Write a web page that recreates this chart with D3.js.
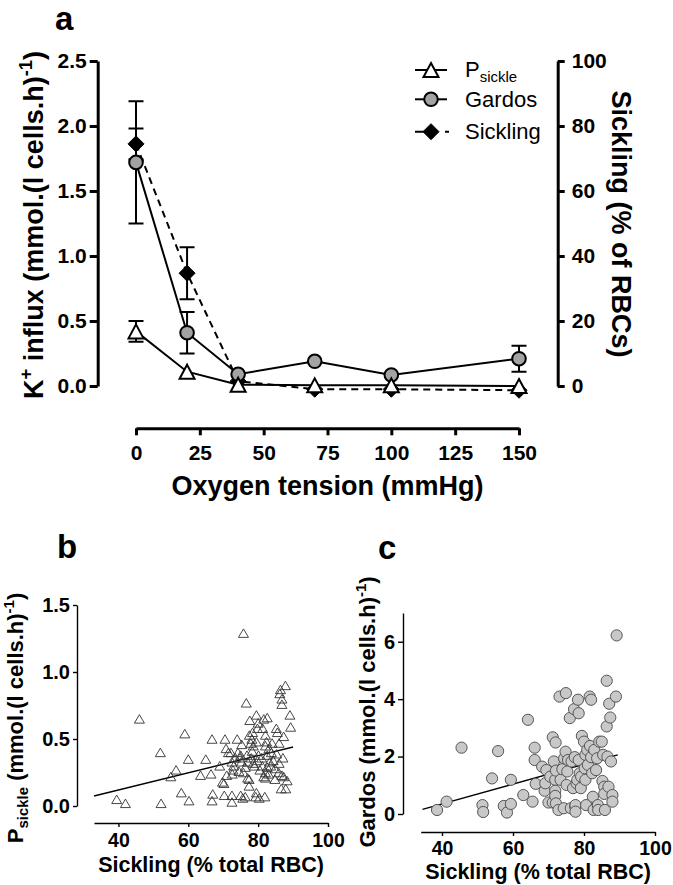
<!DOCTYPE html>
<html><head><meta charset="utf-8">
<script src="https://cdn.jsdelivr.net/npm/d3@7"></script>
<style>
html,body{margin:0;padding:0;background:#fff;}
svg{display:block;}
</style></head><body>
<svg id="chart" width="673" height="885"></svg>
<script>
// ---------- Panel a data ----------
const oxygen = [0, 20, 40, 70, 100, 150];
const psickle = [0.42, 0.11, 0.01, 0.005, 0.005, 0.0];
const psickleErr = [0.08, 0, 0, 0, 0, 0];
const gardos = [1.72, 0.41, 0.09, 0.19, 0.085, 0.21];
const gardosErr = [0.47, 0.16, 0, 0, 0, 0.10];
const sicklingPct = [74.5, 34.7, 1.5, -1.0, -1.0, -1.3];
const sicklingErr = [4.7, 8.0, 0, 0, 0, 0];
const xTicksA = [0, 25, 50, 75, 100, 125, 150];
const yTicksLeft = [0, 0.5, 1.0, 1.5, 2.0, 2.5];
const yTicksRight = [0, 20, 40, 60, 80, 100];
const legendLabels = ["sickle", "Gardos", "Sickling"];

// ---------- Panel b data (Sickling %, Psickle) ----------
const bSickling = [39.5,42,46,52,52.2,55,56.5,58,59,60,60.2,63.5,65,66.5,66.8,67,66.8,
 69,69.8,70.2,70.3,70.5,70.8,71.5,72.2,72.5,72.8,72.6,72.5,72.5,73,
 74,74.2,74.8,74.5,75.3,75,75.2,75,75.6,75.8,75.8,76.6,76.8,77,76.3,77.4,77.4,76.3,77,
 77.6,78.4,78.2,77.9,78.6,78,78.6,78.9,
 79.5,80,79.8,79.5,80.1,79.8,80.5,79.5,79.3,80.3,
 81.6,81.3,81.2,82.1,81.6,81.9,82.1,
 82.6,82.1,82.4,83.1,82.6,83.3,82.6,82.1,
 83.8,84.3,83.6,84.8,84.8,85.2,
 85.5,86,85.3,85.9,86.2,86.4,86.8,86.8,
 87.3,87.1,86.8,87.3,86.6,87.8,87.9,88.3,89.1,89.3,
 78.3,81,84,73.5,77.5,86,71,83];
const bPsickle = [0.05,0.02,0.65,0.40,0.02,0.22,0.27,0.10,0.54,0.35,0.04,0.23,0.35,0.24,0.50,0.09,0.04,
 0.30,0.18,0.17,0.08,0.50,0.43,0.40,0.40,0.33,0.27,0.24,0.08,0.03,0.30,
 0.50,0.40,0.36,0.26,0.46,0.38,0.33,0.08,0.06,1.29,0.25,0.77,0.38,0.33,0.29,0.20,0.15,0.07,0.21,
 0.64,0.55,0.50,0.47,0.45,0.36,0.32,0.30,
 0.68,0.62,0.58,0.48,0.38,0.34,0.27,0.10,0.07,0.06,
 0.65,0.58,0.30,0.25,0.22,0.07,0.45,
 0.66,0.53,0.48,0.43,0.38,0.33,0.29,0.21,
 0.40,0.34,0.30,0.28,0.20,0.58,
 0.55,0.47,0.39,0.25,0.84,0.87,0.80,0.76,
 0.52,0.36,0.23,0.22,0.13,0.90,0.13,0.19,0.68,0.59,
 0.41,0.36,0.47,0.36,0.53,0.32,0.23,0.24];
const bFitX = [33, 90];
const bFitY = [0.075, 0.44];
const bXTicks = [40, 60, 80, 100];
const bYTicks = [0, 0.5, 1.0, 1.5];

// ---------- Panel c data (Sickling %, Gardos) ----------
const cSickling = [38.6,41.3,45.5,51.4,51.6,54.1,55.8,57.4,58.3,59.4,59.4,62.9,64.2,65.5,66.1,66.1,66.4,
 68.2,68.9,69.1,69.4,70,70.5,71.2,71.2,71.5,71.9,71.9,72,72.1,71.9,72.1,72.8,73.1,73.4,73.9,
 74.3,74.4,74.8,74.9,75.1,75.3,75.5,76,76.3,76.5,76.9,77.2,77.4,77.5,77.6,77.6,77.9,78.1,
 78.3,78.5,78.5,78.8,79.1,79.2,79.4,80,80.2,80.4,80.4,80.6,80.9,81.1,81.6,82,81.7,82,82.3,
 82.5,82.7,82.9,83.4,83.7,83.9,84,84.3,85,85.2,85.4,85.7,85.7,85.9,86.4,86.4,86.6,86.9,
 87.1,87.4,87.6,88,88,89,89.2];
const cGardos = [0.14,0.43,2.31,0.31,0.07,1.24,2.19,0.28,0.05,1.19,0.35,0.66,3.28,0.43,2.31,1.88,1.05,
 1.65,0.81,1.07,1.53,0.40,1.30,2.67,0.40,1.83,1.19,0.81,2.49,1.51,0.63,0.37,0.14,4.09,1.19,1.56,
 0.20,1.94,2.17,4.21,1.01,1.48,1.88,3.34,0.20,1.83,0.90,3.65,1.98,0.26,0.31,0.08,1.07,1.19,
 3.98,3.51,1.88,1.42,0.90,1.30,2.72,2.52,1.59,2.06,1.19,0.31,2.23,1.71,4.09,3.98,2.37,1.98,1.42,
 0.60,0.14,2.23,1.53,1.94,0.31,0.14,2.52,2.52,1.15,2.06,0.95,0.70,0.14,4.64,3.05,2.00,0.95,
 3.84,3.36,1.83,0.66,0.43,4.09,6.22];
const cFitX = [34.5, 89.5];
const cFitY = [0.16, 2.06];
const cXTicks = [40, 60, 80, 100];
const cYTicks = [0, 2, 4, 6];

// ---------- drawing ----------
const FONT = '"Liberation Sans", Arial, Helvetica, sans-serif';
const svg = d3.select("#chart");

function styleAxis(g, w, fs) {
  g.attr("font-family", null).attr("font-size", null);
  g.select(".domain").attr("stroke", "#000").attr("stroke-width", w);
  g.selectAll(".tick line").attr("stroke", "#000").attr("stroke-width", w);
  g.selectAll(".tick text").attr("fill", "#000")
    .style("font-family", FONT).style("font-size", fs + "px").style("font-weight", "bold");
}
const triType = (w, h) => ({ draw(ctx) { ctx.moveTo(0, -h / 2); ctx.lineTo(w / 2, h / 2); ctx.lineTo(-w / 2, h / 2); ctx.closePath(); } });
const diaType = (w, h) => ({ draw(ctx) { ctx.moveTo(0, -h / 2); ctx.lineTo(w / 2, 0); ctx.lineTo(0, h / 2); ctx.lineTo(-w / 2, 0); ctx.closePath(); } });
const circType = (r) => ({ draw(ctx) { ctx.moveTo(r, 0); ctx.arc(0, 0, r, 0, 2 * Math.PI); ctx.closePath(); } });

// rich text helper: parts = [{t, mode:'sup'|'sub'|undefined}]
function rich(g, parts, x, y, fs, weight, anchor, rot) {
  const t = g.append("text")
    .attr("transform", `translate(${x},${y})` + (rot ? ` rotate(${rot})` : ""))
    .attr("text-anchor", anchor || "start")
    .style("font-family", FONT).style("font-size", fs + "px").style("font-weight", weight)
    .attr("fill", "#000");
  let shift = 0;
  parts.forEach(p => {
    const ts = t.append("tspan").text(p.t);
    let target = 0, size = fs;
    if (p.mode === "sup") { target = -fs * 0.42; size = fs * 0.68; }
    if (p.mode === "sub") { target = fs * 0.22; size = fs * 0.68; }
    ts.style("font-size", size + "px").attr("dy", target - shift);
    shift = target;
  });
  return t;
}

// ===== Panel a =====
const xA = d3.scaleLinear().domain([0, 150]).range([136, 519]);
const yL = d3.scaleLinear().domain([0, 2.5]).range([386, 61]);
const yR = d3.scaleLinear().domain([0, 100]).range([386, 61]);
const gA = svg.append("g");

gA.append("g").attr("transform", "translate(97.7,0)")
  .call(d3.axisLeft(yL).tickValues(yTicksLeft).tickFormat(d3.format(".1f")).tickSize(8).tickSizeOuter(0).tickPadding(3))
  .call(styleAxis, 3, 21);
gA.append("g").attr("transform", "translate(557.7,0)")
  .call(d3.axisRight(yR).tickValues(yTicksRight).tickSize(7).tickSizeOuter(0).tickPadding(7))
  .call(styleAxis, 3, 21);
gA.append("g").attr("transform", "translate(0,428.3)")
  .call(d3.axisBottom(xA).tickValues(xTicksA).tickSize(7).tickSizeOuter(0).tickPadding(10))
  .call(styleAxis, 3, 21);

rich(gA, [{t: "a"}], 55, 30, 33, "bold", "start");
rich(gA, [{t: "Oxygen tension (mmHg)"}], 327.5, 495, 27, "bold", "middle");
rich(gA, [{t: "K"}, {t: "+", mode: "sup"}, {t: " influx (mmol.(l cells.h)"}, {t: "-1", mode: "sup"}, {t: ")"}], 43, 225, 27, "bold", "middle", -90);
rich(gA, [{t: "Sickling (% of RBCs)"}], 612, 224, 27, "bold", "middle", 90);

function series(g, yS, vals, errs, opts) {
  const line = d3.line().x((d, i) => xA(oxygen[i])).y(d => yS(d));
  g.append("path").attr("d", line(vals)).attr("fill", "none").attr("stroke", "#000")
    .attr("stroke-width", 2).attr("stroke-dasharray", opts.dash || null);
  vals.forEach((v, i) => {
    if (!errs[i]) return;
    const x = xA(oxygen[i]), y1 = yS(v + errs[i]), y0 = yS(v - errs[i]);
    g.append("path").attr("d", `M${x},${y0}V${y1}M${x - 7.5},${y1}H${x + 7.5}M${x - 7.5},${y0}H${x + 7.5}`)
      .attr("stroke", "#000").attr("stroke-width", 2).attr("fill", "none");
  });
  g.selectAll(null).data(vals).enter().append("path")
    .attr("transform", (d, i) => `translate(${xA(oxygen[i])},${yS(d)})`)
    .attr("d", d3.symbol().type(opts.type)())
    .attr("fill", opts.fill).attr("stroke", "#000").attr("stroke-width", opts.sw);
}
series(gA, yR, sicklingPct, sicklingErr, {type: diaType(16, 16), fill: "#000", sw: 1, dash: "7,5"});
series(gA, yL, gardos, gardosErr, {type: circType(6.8), fill: "#a3a3a3", sw: 2});
series(gA, yL, psickle, psickleErr, {type: triType(15, 14), fill: "#fff", sw: 2});

// legend
const legY = [70, 99.3, 131.7];
const legTypes = [triType(15, 14), circType(6.8), diaType(16, 16)];
const legFill = ["#fff", "#a3a3a3", "#000"];
legTypes.forEach((tp, i) => {
  const y = legY[i];
  const ln = gA.append("line").attr("x1", 415).attr("x2", i < 2 ? 447 : 450).attr("y1", y).attr("y2", y)
    .attr("stroke", "#000").attr("stroke-width", 2);
  if (i === 2) ln.attr("stroke-dasharray", "10,20,4");
  gA.append("path").attr("transform", `translate(431,${y})`).attr("d", d3.symbol().type(tp)())
    .attr("fill", legFill[i]).attr("stroke", "#000").attr("stroke-width", i === 2 ? 1 : 2);
});
rich(gA, [{t: "P"}, {t: legendLabels[0], mode: "sub"}], 465, 77, 22, "normal", "start");
rich(gA, [{t: legendLabels[1]}], 465, 107, 22, "normal", "start");
rich(gA, [{t: legendLabels[2]}], 465, 139, 22, "normal", "start");

// ===== Panel b =====
const xB = d3.scaleLinear().domain([33, 100]).range([94, 328]);
const yB = d3.scaleLinear().domain([0, 1.5]).range([806, 605]);
const gB = svg.append("g");
gB.append("g").attr("transform", "translate(0,823)")
  .call(d3.axisBottom(xB).tickValues(bXTicks).tickSize(4).tickSizeOuter(0).tickPadding(6))
  .call(styleAxis, 1.4, 19.5);
gB.append("g").attr("transform", "translate(77,0)")
  .call(d3.axisLeft(yB).tickValues(bYTicks).tickFormat(d3.format(".1f")).tickSize(4).tickSizeOuter(0).tickPadding(3))
  .call(styleAxis, 1.4, 20);
rich(gB, [{t: "b"}], 57, 558, 33, "bold", "start");
rich(gB, [{t: "Sickling (% total RBC)"}], 211, 872, 21.5, "bold", "middle");
rich(gB, [{t: "P"}, {t: "sickle", mode: "sub"}, {t: " (mmol.(l cells.h)"}, {t: "-1", mode: "sup"}, {t: ")"}], 23, 718, 22, "bold", "middle", -90);
gB.append("path").attr("d", d3.line().x(d => xB(d[0])).y(d => yB(d[1]))(bFitX.map((x, i) => [x, bFitY[i]])))
  .attr("stroke", "#000").attr("stroke-width", 1.4).attr("fill", "none");
gB.selectAll(null).data(bSickling).enter().append("path")
  .attr("transform", (d, i) => `translate(${xB(d)},${yB(bPsickle[i])})`)
  .attr("d", d3.symbol().type(triType(10, 8.5))())
  .attr("fill", "none").attr("stroke", "#333").attr("stroke-width", 0.9);

// ===== Panel c =====
const xC = d3.scaleLinear().domain([34, 100]).range([420.7, 655]);
const yC = d3.scaleLinear().domain([0, 7]).range([814, 613]);
const gC = svg.append("g");
gC.append("g").attr("transform", "translate(0,832)")
  .call(d3.axisBottom(xC).tickValues(cXTicks).tickSize(4).tickSizeOuter(0).tickPadding(5))
  .call(styleAxis, 1.4, 19.5);
gC.append("g").attr("transform", "translate(403,0)")
  .call(d3.axisLeft(yC).tickValues(cYTicks).tickFormat(d3.format("d")).tickSize(5).tickSizeOuter(0).tickPadding(3))
  .call(styleAxis, 1.4, 20);
rich(gC, [{t: "c"}], 378, 559, 33, "bold", "start");
rich(gC, [{t: "Sickling (% total RBC)"}], 538, 879, 21.5, "bold", "middle");
rich(gC, [{t: "Gardos (mmol.(l cells.h)"}, {t: "-1", mode: "sup"}, {t: ")"}], 375, 712, 22, "bold", "middle", -90);
gC.append("path").attr("d", d3.line().x(d => xC(d[0])).y(d => yC(d[1]))(cFitX.map((x, i) => [x, cFitY[i]])))
  .attr("stroke", "#000").attr("stroke-width", 1.4).attr("fill", "none");
gC.selectAll(null).data(cSickling).enter().append("circle")
  .attr("cx", d => xC(d)).attr("cy", (d, i) => yC(cGardos[i])).attr("r", 5.6)
  .attr("fill", "#c8c8c8").attr("stroke", "#555").attr("stroke-width", 1);
</script>
</body></html>
